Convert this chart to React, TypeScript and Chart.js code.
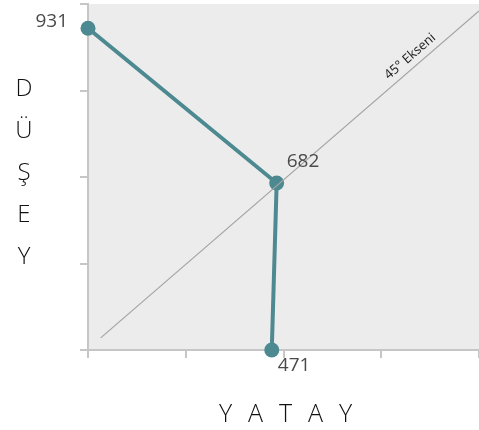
import React, { useEffect, useRef } from "react";
import { Chart, registerables } from "chart.js";

Chart.register(...registerables);

// ---- data ----
const pathX = [0, 193, 188];
const pathY = [372, 193, 0];
const pathLabels = ["931", "682", "471"];
const diagonalX = [13, 400];
const diagonalY = [14, 392];
const diagonalLabel = "45° Ekseni";
const xTitleLetters = ["Y", "A", "T", "A", "Y"];
const yTitleLetters = ["D", "Ü", "Ş", "E", "Y"];
const axisMin = 0;
const axisMax = 400;
const axisStep = 100;

const LINE_COLOR = "#4d8990";
const AXIS_COLOR = "#c6c6c6";
const FONT = "'Open Sans', 'DejaVu Sans', sans-serif";

// label offsets (pixels) relative to each point
const labelOffsets = [
  { dx: -20, dy: -7, align: "right" as CanvasTextAlign },
  { dx: 10, dy: -21, align: "left" as CanvasTextAlign },
  { dx: 6, dy: 16, align: "left" as CanvasTextAlign },
];

const bgPlugin = {
  id: "plotBg",
  beforeDraw(chart: any) {
    const { ctx, chartArea } = chart;
    ctx.save();
    ctx.fillStyle = "#ececec";
    ctx.fillRect(chartArea.left, chartArea.top, chartArea.right - chartArea.left, chartArea.bottom - chartArea.top);
    ctx.restore();
  },
};

const textPlugin = {
  id: "texts",
  afterDraw(chart: any) {
    const { ctx, scales, chartArea } = chart;
    const xs = scales.x;
    const ys = scales.y;
    ctx.save();
    // point labels
    ctx.fillStyle = "#4a4a4a";
    ctx.font = `19px ${FONT}`;
    ctx.textBaseline = "middle";
    pathLabels.forEach((lab, i) => {
      const px = xs.getPixelForValue(pathX[i]);
      const py = ys.getPixelForValue(pathY[i]);
      const o = labelOffsets[i];
      ctx.textAlign = o.align;
      ctx.fillText(lab, px + o.dx, py + o.dy);
    });
    ctx.restore();

    // diagonal label
    ctx.save();
    const x0 = xs.getPixelForValue(diagonalX[0]);
    const y0 = ys.getPixelForValue(diagonalY[0]);
    const x1 = xs.getPixelForValue(diagonalX[1]);
    const y1 = ys.getPixelForValue(diagonalY[1]);
    const ang = Math.atan2(y1 - y0, x1 - x0);
    const t = (417 - x0) / (x1 - x0);
    const lx = x0 + (x1 - x0) * t;
    const ly = y0 + (y1 - y0) * t;
    ctx.translate(lx, ly);
    ctx.rotate(ang);
    ctx.fillStyle = "#1a1a1a";
    ctx.font = `13px ${FONT}`;
    ctx.textAlign = "center";
    ctx.textBaseline = "bottom";
    ctx.fillText(diagonalLabel, 0, -4);
    ctx.restore();

    ctx.save();
    // axis titles
    ctx.fillStyle = "#111";
    ctx.font = `300 25px ${FONT}`;
    ctx.textAlign = "center";
    ctx.textBaseline = "middle";
    const cx = (chartArea.left + chartArea.right) / 2 + 2;
    const spacing = 30;
    xTitleLetters.forEach((l, i) => {
      ctx.fillText(l, cx + (i - (xTitleLetters.length - 1) / 2) * spacing, 415);
    });
    ctx.font = `300 24px ${FONT}`;
    yTitleLetters.forEach((l, i) => {
      ctx.fillText(l, 24, 89 + i * 42);
    });
    ctx.restore();
  },
};

export default function App() {
  const ref = useRef<HTMLCanvasElement | null>(null);

  useEffect(() => {
    if (!ref.current) return;
    const axis = (extra: any) => ({
      type: "linear",
      min: axisMin,
      max: axisMax,
      ticks: { display: false, stepSize: axisStep },
      grid: {
        drawOnChartArea: false,
        drawTicks: true,
        tickLength: 8,
        color: AXIS_COLOR,
        lineWidth: 2,
      },
      border: { display: true, color: AXIS_COLOR, width: 2 },
      ...extra,
    });
    const chart = new Chart(ref.current, {
      type: "scatter",
      data: {
        datasets: [
          {
            data: diagonalX.map((x, i) => ({ x, y: diagonalY[i] })),
            showLine: true,
            borderColor: "#a4a4a4",
            borderWidth: 1.2,
            pointRadius: 0,
            pointHoverRadius: 0,
            clip: false,
          },
          {
            data: pathX.map((x, i) => ({ x, y: pathY[i] })),
            showLine: true,
            borderColor: LINE_COLOR,
            backgroundColor: LINE_COLOR,
            borderWidth: 4,
            pointRadius: 7.5,
            pointBorderWidth: 0,
            pointBackgroundColor: LINE_COLOR,
            clip: false,
          },
        ],
      },
      options: {
        animation: false,
        responsive: true,
        maintainAspectRatio: false,
        layout: { autoPadding: false, padding: { left: 80, right: 0, top: 4, bottom: 72 } },
        plugins: { legend: { display: false }, tooltip: { enabled: false } },
        scales: { x: axis({ position: "bottom" }), y: axis({ position: "left" }) } as any,
      },
      plugins: [bgPlugin, textPlugin],
    } as any);
    return () => chart.destroy();
  }, []);

  return (
    <div style={{ position: "fixed", left: 0, top: 0, width: 479, height: 430 }}>
      <canvas ref={ref} />
    </div>
  );
}
